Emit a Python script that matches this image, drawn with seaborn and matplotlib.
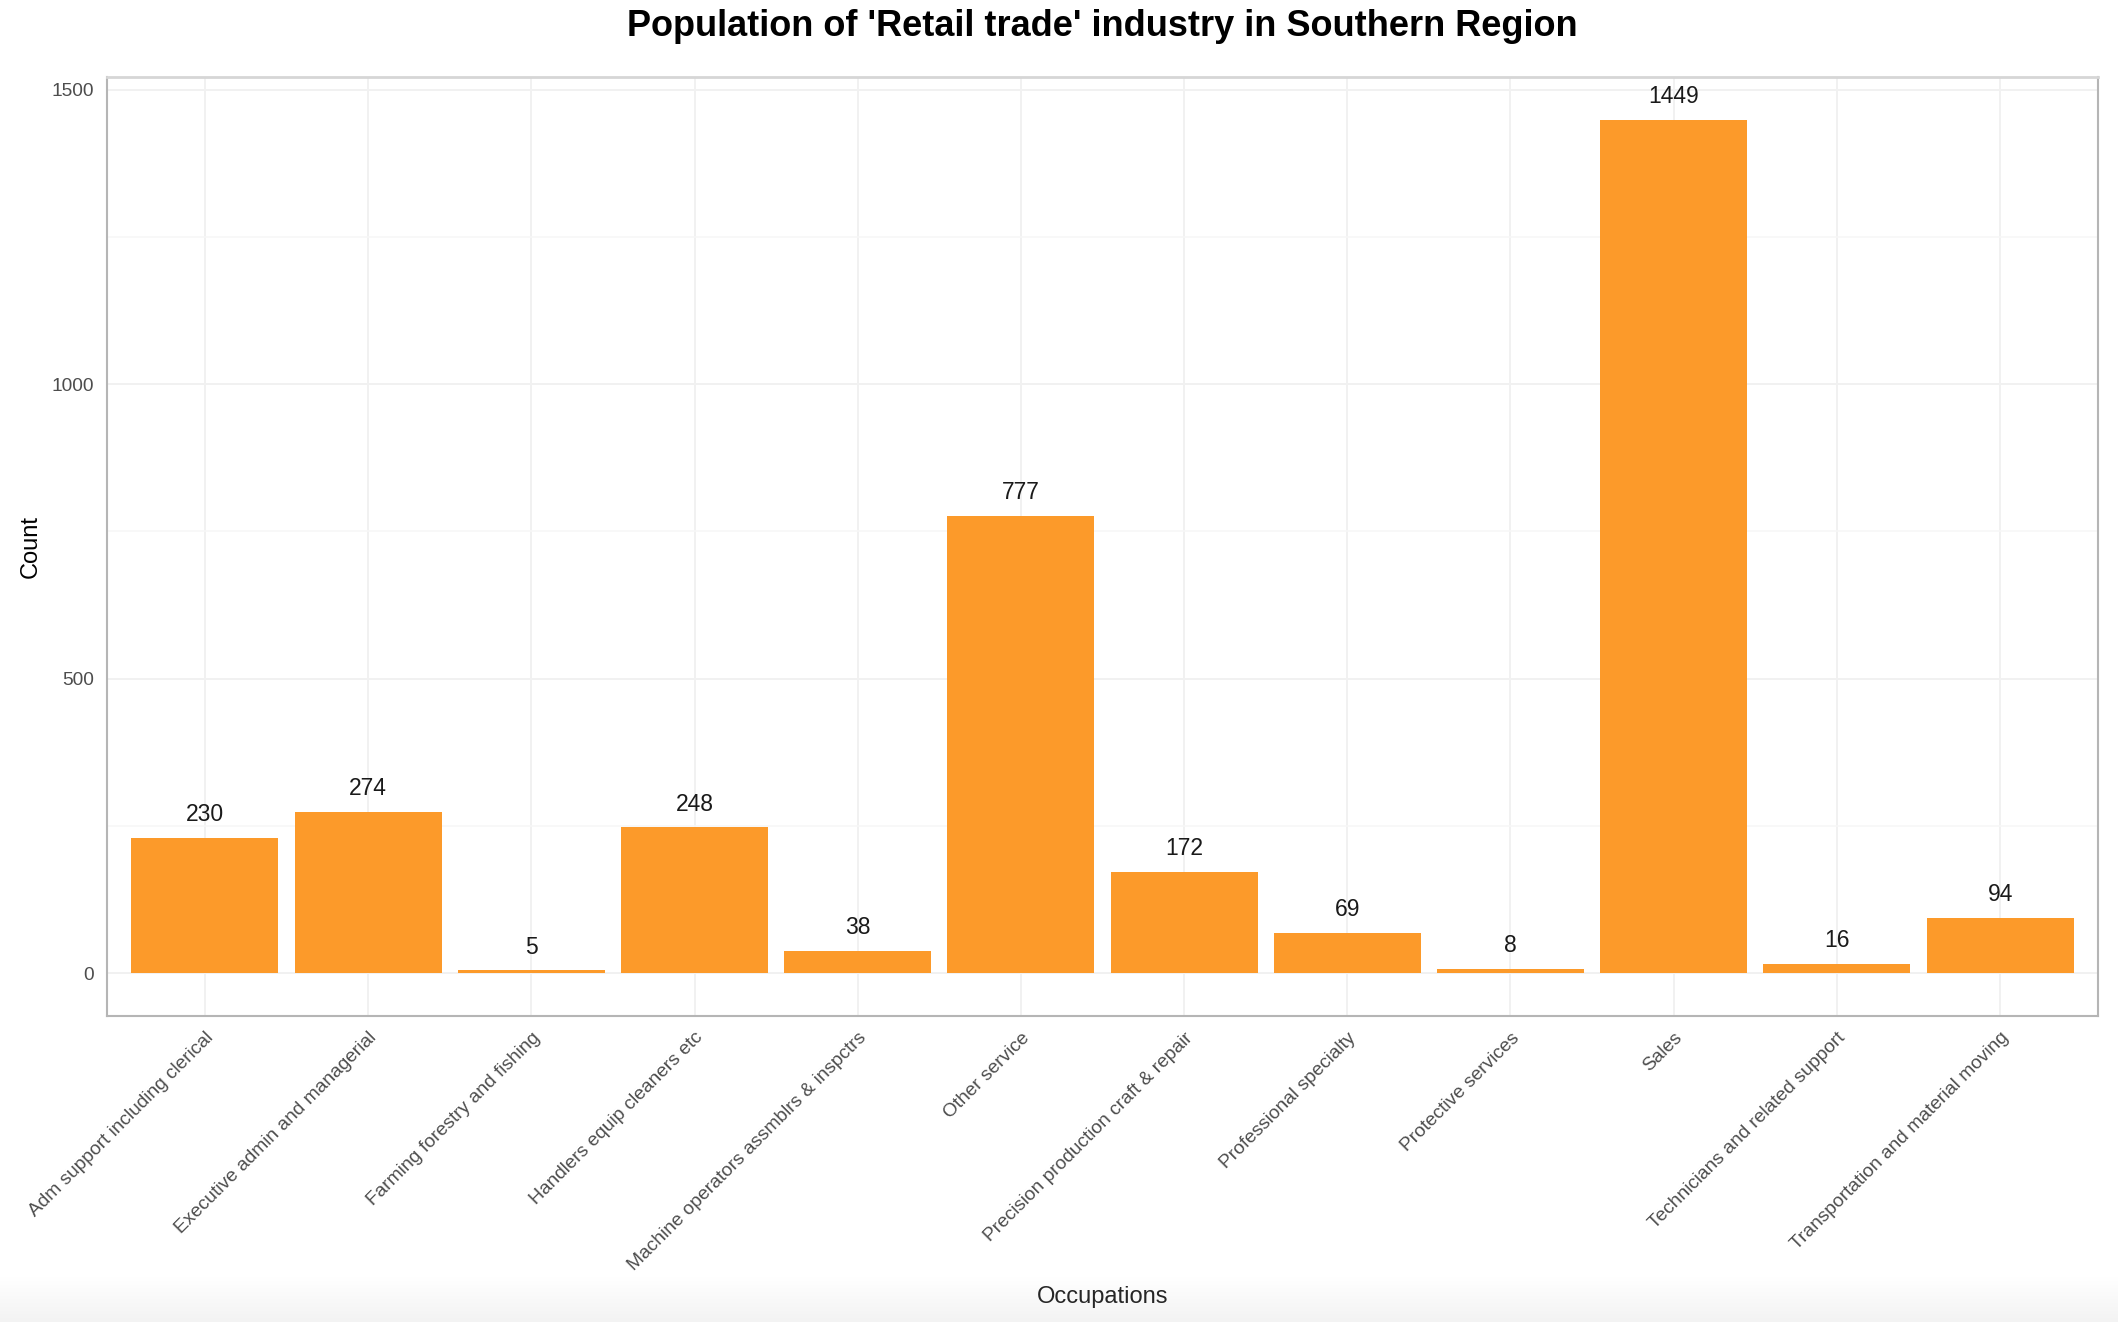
import numpy as np
import pandas as pd
import matplotlib
matplotlib.use("Agg")
import matplotlib.pyplot as plt
import seaborn as sns

occupations = [
    "Adm support including clerical",
    "Executive admin and managerial",
    "Farming forestry and fishing",
    "Handlers equip cleaners etc",
    "Machine operators assmblrs & inspctrs",
    "Other service",
    "Precision production craft & repair",
    "Professional specialty",
    "Protective services",
    "Sales",
    "Technicians and related support",
    "Transportation and material moving",
]
counts = [230, 274, 5, 248, 38, 777, 172, 69, 8, 1449, 16, 94]
y_ticks = [0, 500, 1000, 1500]
y_minor = [250, 750, 1250]

title = "Population of 'Retail trade' industry in Southern Region"
x_title = "Occupations"
y_title = "Count"
bar_color = "#FC9A2A"

sns.set_theme(style="white")
plt.rcParams["font.family"] = ["Liberation Sans", "DejaVu Sans"]

W, H, DPI = 2118, 1322, 100
fig = plt.figure(figsize=(W / DPI, H / DPI), dpi=DPI)
fig.patch.set_facecolor("white")

# subtle screenshot shading at the very bottom
gax = fig.add_axes([0, 0, 1, 45 / H], zorder=-10)
grad = np.linspace(0.0, 1.0, 100).reshape(-1, 1)
gax.imshow(grad, aspect="auto", cmap=matplotlib.colors.LinearSegmentedColormap.from_list(
    "g", ["#FFFFFF", "#F3F3F3"]), extent=[0, 1, 0, 1], origin="upper", interpolation="bilinear")
gax.axis("off")

left, right = 107 / W, 2098 / W
top, bottom = 1 - 77 / H, 1 - 1016 / H
ax = fig.add_axes([left, bottom, right - left, top - bottom])

df = pd.DataFrame({"Occupation": occupations, "Count": counts})
sns.barplot(data=df, x="Occupation", y="Count", color=bar_color, saturation=1,
            width=0.9, edgecolor="none", linewidth=0, ax=ax, zorder=3)

ax.set_xlim(-0.6, len(occupations) - 1 + 0.6)
ax.set_ylim(-0.05 * max(counts), 1.05 * max(counts))

ax.set_yticks(y_ticks)
ax.set_yticks(y_minor, minor=True)
ax.set_yticklabels([str(v) for v in y_ticks])
ax.set_axisbelow(True)
ax.grid(True, which="major", axis="both", color="#F1F1F1", linewidth=1.4, zorder=0)
ax.grid(True, which="minor", axis="y", color="#F7F7F7", linewidth=1.2, zorder=0)

for i, v in enumerate(counts):
    ax.annotate(str(v), xy=(i, v), xytext=(0, 12), textcoords="offset points",
                ha="center", va="baseline", fontsize=16.5, color="#1A1A1A", zorder=5)

ax.tick_params(axis="both", which="major", length=5.5, width=1.3, color="#333333",
               labelsize=13.8, labelcolor="#4D4D4D", pad=4)
ax.tick_params(axis="y", which="minor", length=0)
plt.setp(ax.get_xticklabels(), rotation=45, ha="right", va="top", rotation_mode="anchor")

for side in ["left", "right", "bottom"]:
    ax.spines[side].set_color("#B5B5B5")
    ax.spines[side].set_linewidth(1.5)
ax.spines["top"].set_color("#D6D6D6")
ax.spines["top"].set_linewidth(2.0)

ax.set_xlabel("")
ax.set_ylabel(y_title, fontsize=17, color="black", labelpad=7)
fig.text((left + right) / 2, 1 - 1297 / H, x_title, ha="center", va="center", fontsize=17)

fig.text((left + right) / 2, 1 - 27 / H, title, ha="center", va="center",
         fontsize=26, fontweight="bold", color="black")

fig.savefig("out.png", dpi=DPI)
